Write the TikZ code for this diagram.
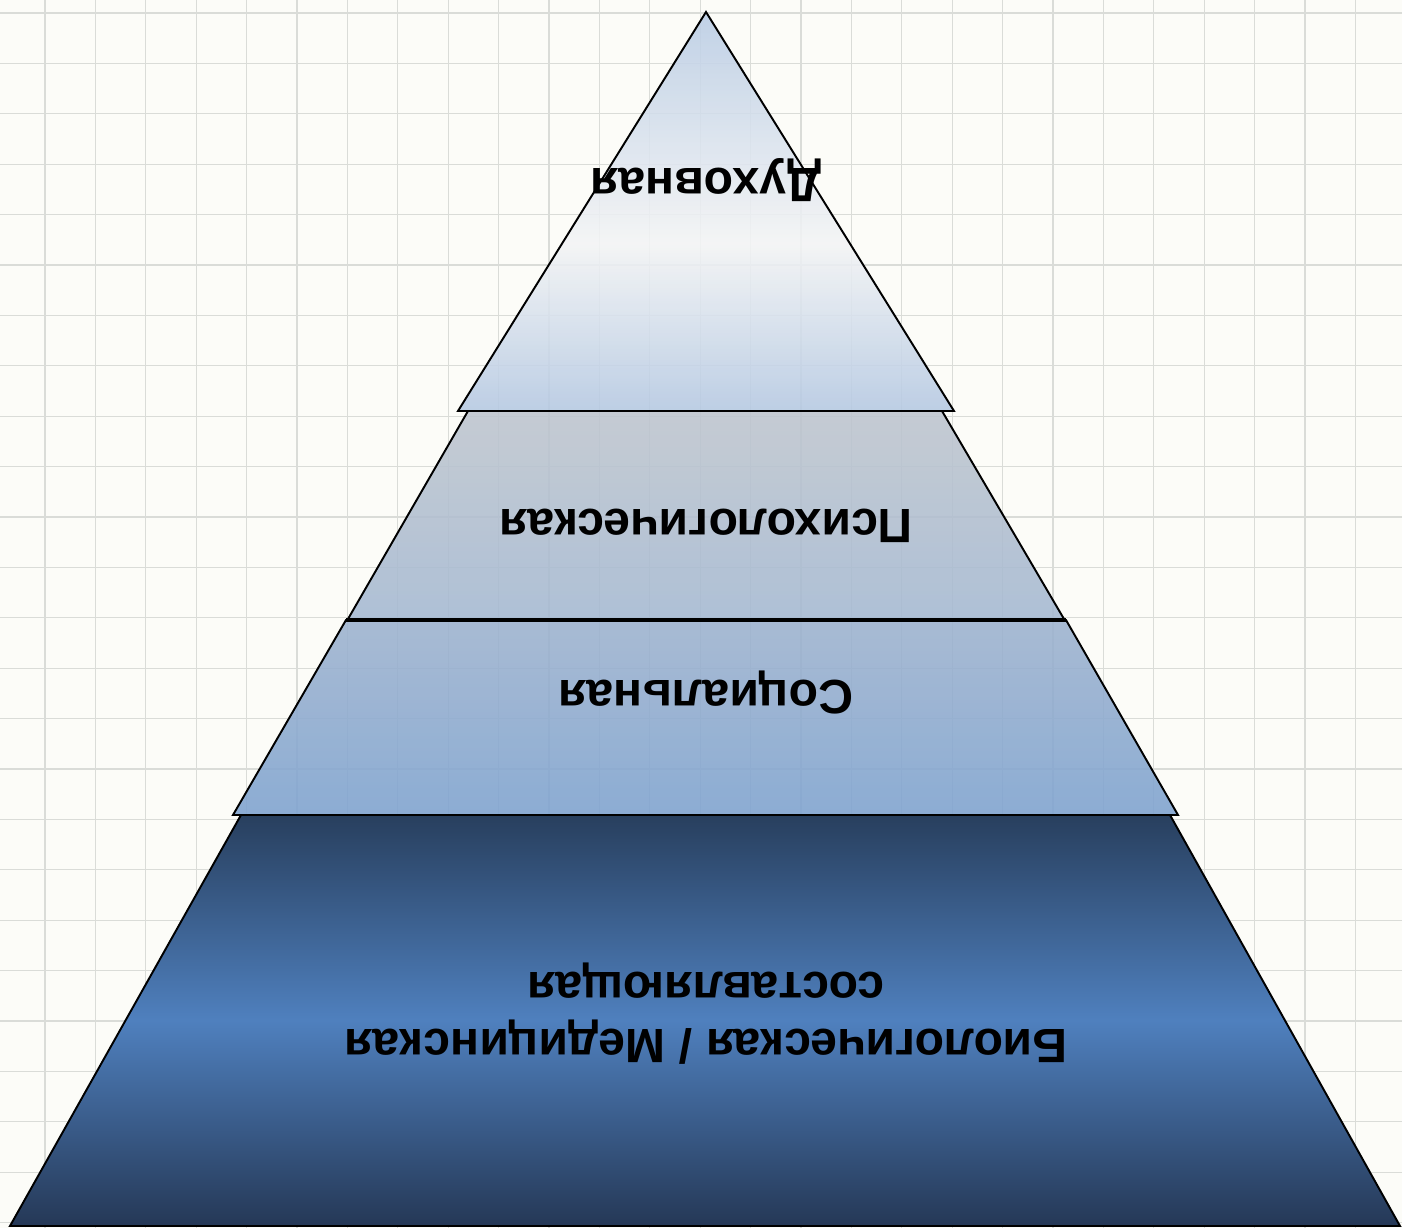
\documentclass[tikz,border=0pt]{standalone}
\usepackage{fontspec}
\setmainfont{Liberation Sans}
\usepackage{tikz}

\definecolor{paper}{RGB}{252,252,248}
\definecolor{gridgray}{RGB}{218,220,216}
\definecolor{spiritT}{RGB}{185,204,228}
\definecolor{spiritM}{RGB}{243,244,245}
\definecolor{spiritB}{RGB}{180,200,226}
\definecolor{psychT}{RGB}{190,197,206}
\definecolor{psychB}{RGB}{164,184,210}
\definecolor{socialT}{RGB}{157,178,206}
\definecolor{socialB}{RGB}{125,162,207}
\definecolor{bioT}{RGB}{40,63,94}
\definecolor{bioM}{RGB}{79,128,190}
\definecolor{bioB}{RGB}{37,56,86}

\pgfdeclareverticalshading{spiritshade}{100bp}{color(0bp)=(spiritB); color(25bp)=(spiritB); color(46bp)=(spiritM); color(75bp)=(spiritT); color(100bp)=(spiritT)}
\pgfdeclareverticalshading{psychshade}{100bp}{color(0bp)=(psychB); color(25bp)=(psychB); color(75bp)=(psychT); color(100bp)=(psychT)}
\pgfdeclareverticalshading{socialshade}{100bp}{color(0bp)=(socialB); color(25bp)=(socialB); color(75bp)=(socialT); color(100bp)=(socialT)}
\pgfdeclareverticalshading{bioshade}{100bp}{color(0bp)=(bioB); color(25bp)=(bioB); color(50bp)=(bioM); color(75bp)=(bioT); color(100bp)=(bioT)}

\tikzset{
	tier/.style={draw=black, line width=0.55pt, line join=miter},
	seethrough/.style={fill opacity=0.88},
	tierlabel/.style={rotate=180, font=\fontsize{13.7}{16.2}\selectfont\bfseries, align=center, text=black, inner sep=0pt},
	gridline/.style={draw=gridgray, line width=0.3pt}
}

\begin{document}
\begin{tikzpicture}
			%%%%% START %%%%%
			
			\useasboundingbox (0, 0) rectangle (14.02, -12.28);
			\fill[paper] (0, 0) rectangle (14.02, -12.28);
			\draw[gridline, step=0.504, shift={(0.45, -0.13)}] (-0.45, 0.13) grid (13.57, -12.15);
			
			\shadedraw[tier, shading=bioshade] (2.41, -8.15) -- (11.70, -8.15) -- (14.00, -12.26) -- (0.10, -12.26) -- cycle;
			\shadedraw[tier, seethrough, shading=socialshade] (3.46, -6.20) -- (10.66, -6.20) -- (11.78, -8.15) -- (2.33, -8.15) -- cycle;
			\shadedraw[tier, seethrough, shading=psychshade] (4.68, -4.11) -- (9.42, -4.11) -- (10.64, -6.19) -- (3.48, -6.19) -- cycle;
			\shadedraw[tier, seethrough, shading=spiritshade] (7.06, -0.12) -- (9.54, -4.11) -- (4.58, -4.11) -- cycle;
			
			\draw[line width=0.95pt] (3.46, -6.20) -- (10.66, -6.20);
			
			\node[tierlabel] (spiritual) at (7.06, -1.80) {Духовная};
			\node[tierlabel] (psychological) at (7.06, -5.26) {Психологическая};
			\node[tierlabel] (social) at (7.06, -6.93) {Социальная};
			\node[tierlabel] (biological) at (7.06, -10.14) {Биологическая / Медицинская\\составляющая};
			
			%%%%% END %%%%%
		\end{tikzpicture}
\end{document}
